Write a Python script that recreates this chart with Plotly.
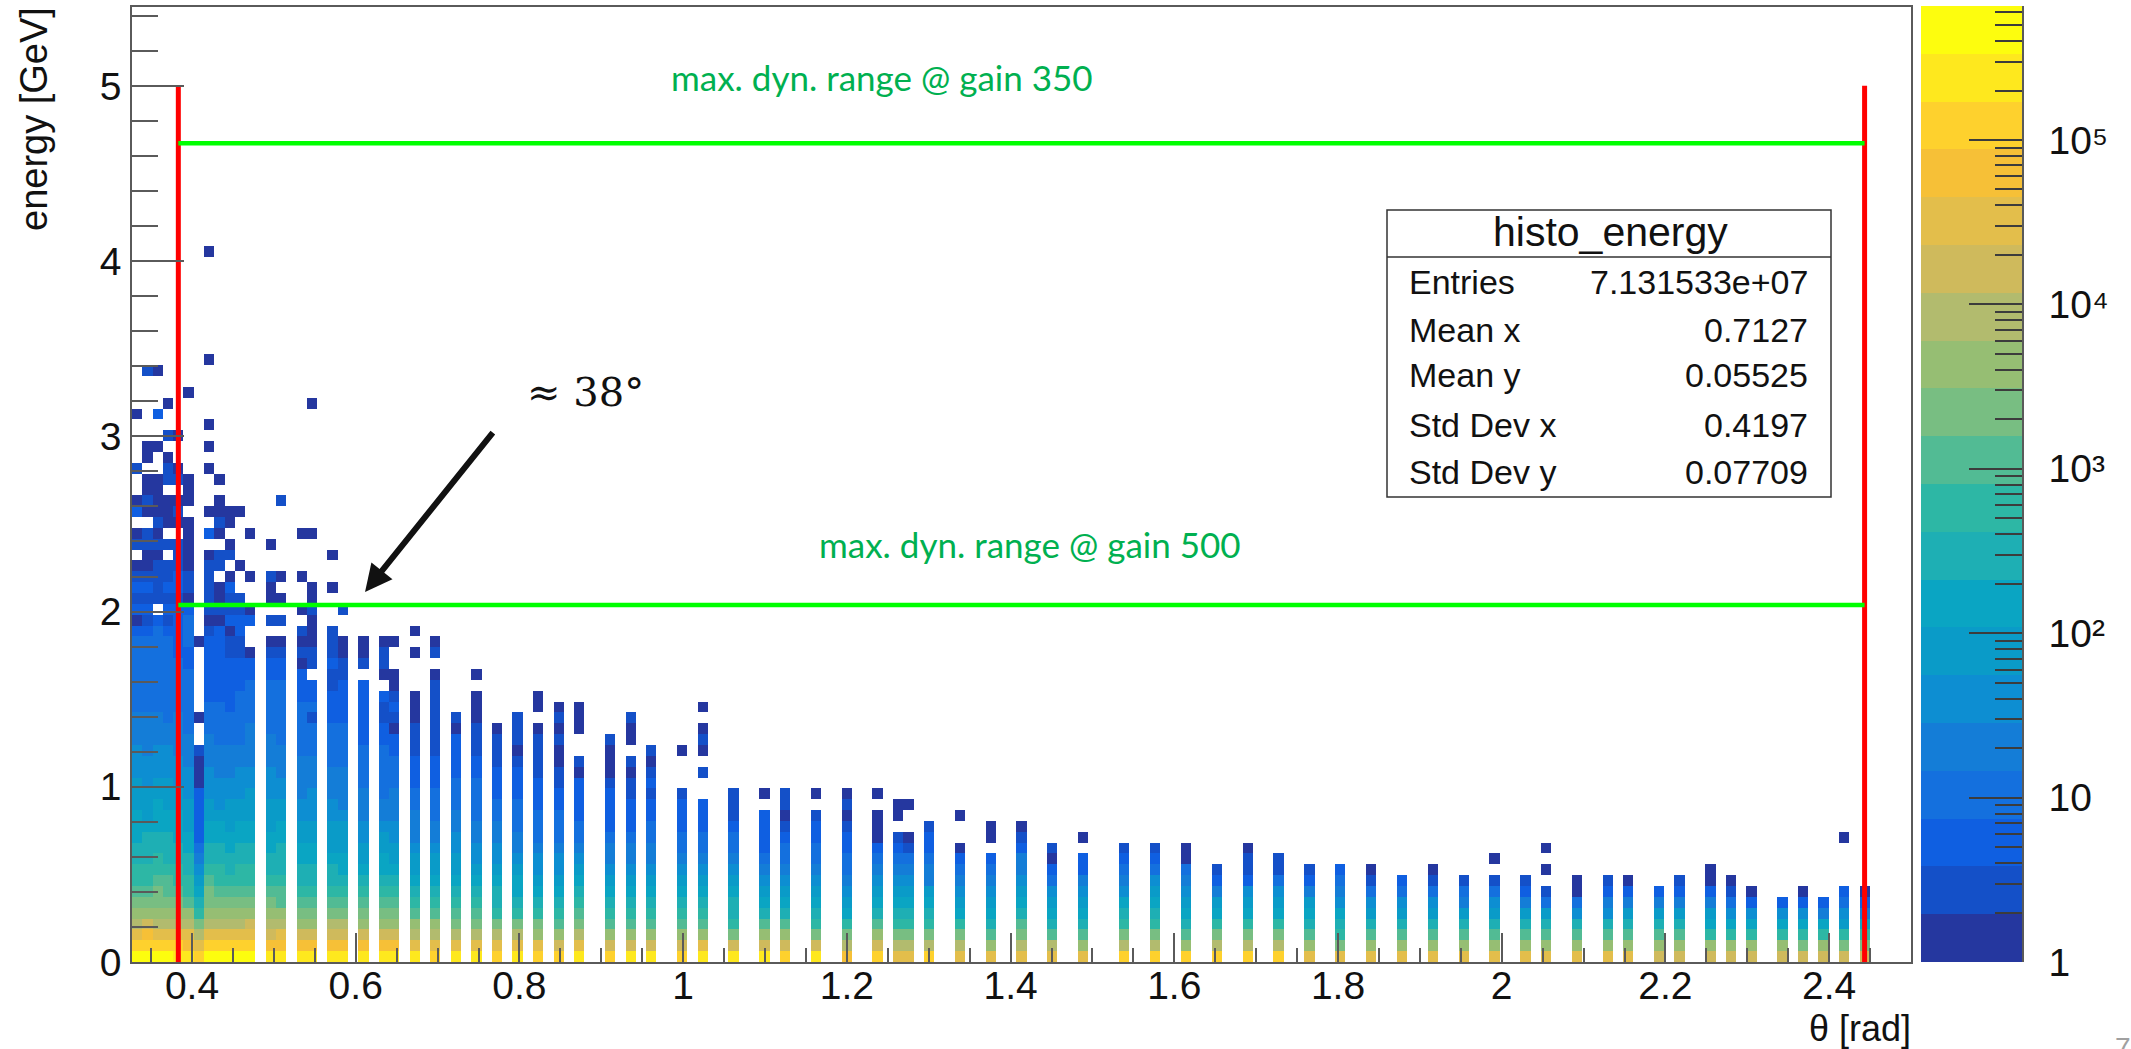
import plotly.graph_objects as go

W, H = 2131, 1049

# ---- picture frame (pixels) ----
X_RANGE = [0.3267, 2.5]
Y_RANGE = [0.0, 5.45]
N_XBINS = 173
N_YBINS = 88
CB_MAX_DECADES = 5.815

# ---- colour bands, bottom of the palette first ----
band_colors = ["#25379f", "#1450c8", "#0f5fe1", "#1470de", "#147dd7", "#0d8ed2", "#0a9bc8", "#0aa5c3",
               "#1eafb4", "#2db7a5", "#52bb94", "#78be82", "#96be73", "#b2bb6e", "#cfba5c", "#e3be4b",
               "#f6c037", "#fed12d", "#fee81e", "#fdfd0e"]

# ---- each column: band index per energy bin from the bottom, -1 = empty ----
c000 = [19,17,15,13,12,11,10,9,9,8,8,7,7,7,6,6,6,5,5,5,4,4,4,3,3,3,3,3,3,3,2,0,2,1,2,1,0,-1,1,0,-1,2,0,-1,-1,1,-1,-1,-1,-1,0]
c001 = [19,17,16,14,12,11,10,9,9,8,8,8,7,6,6,6,5,5,5,4,4,4,4,3,3,3,3,3,3,3,2,1,2,1,2,1,0,0,1,1,-1,0,1,0,0,-1,0,0,-1,-1,-1,-1,-1,-1,1]
c002 = [19,17,15,13,12,11,11,10,9,9,8,8,7,7,7,6,6,5,5,5,4,4,4,3,3,3,3,3,3,3,3,2,-1,1,1,1,1,0,1,0,1,0,0,0,0,-1,-1,0,-1,-1,2,-1,-1,-1,0]
c003 = [19,17,15,13,12,11,10,10,9,8,8,8,7,7,6,6,6,5,5,5,4,4,3,3,3,3,3,3,3,3,2,1,2,1,2,1,1,-1,1,-1,0,0,0,-1,1,1,0,-1,1,-1,-1,0]
c004 = [18,17,15,13,12,11,10,9,9,8,8,7,7,7,6,6,5,5,5,4,4,4,4,3,3,3,3,3,2,2,2,2,2,1,2,2,1,1,1,-1,0,1,0,-1,1,0,-1,-1,0]
c005 = [18,16,15,13,12,10,9,9,8,8,7,7,6,6,6,5,5,5,4,4,4,3,3,3,3,3,3,2,2,3,3,3,2,0,1,1,0,0,0,0,0,-1,0,0,0,-1,-1,-1,-1,-1,-1,-1,0]
c006 = [17,15,13,11,9,8,7,6,5,4,3,2,2,2,2,2,0,0,0,1,-1,-1,0,-1,-1,-1,-1,-1,-1,0]
c007 = [19,17,15,13,12,11,11,10,9,8,8,7,7,6,6,5,5,5,4,4,4,3,3,3,2,2,2,2,2,2,1,0,1,1,1,1,1,0,-1,2,-1,0,-1,-1,-1,0,-1,0,-1,0,-1,-1,-1,-1,-1,0,-1,-1,-1,-1,-1,-1,-1,-1,-1,0]
c008 = [19,17,15,13,12,11,10,9,9,8,8,7,7,6,5,5,5,4,4,4,3,3,3,3,2,2,2,2,2,2,2,0,1,0,0,-1,1,1,-1,0,1,0,0,-1,0]
c009 = [19,17,15,13,12,11,10,9,8,8,7,7,6,6,6,5,5,4,4,4,3,3,3,2,2,2,2,2,1,1,0,2,1,1,2,0,-1,1,0,-1,0,0]
c010 = [19,17,15,13,12,11,10,9,9,8,8,7,7,6,6,5,5,5,4,4,3,3,3,3,3,2,2,2,1,1,2,2,1,1,-1,-1,0,-1,-1,-1,-1,0]
c011 = [19,17,15,14,12,11,10,9,9,8,8,7,7,6,6,6,5,5,4,4,4,4,3,3,3,3,2,2,0,-1,-1,2,0,-1,-1,0,-1,-1,-1,0]
c013 = [18,16,14,13,12,11,10,9,8,8,7,7,6,6,6,5,5,5,4,4,4,3,3,3,3,3,2,2,1,0,-1,1,-1,0,0,1,-1,-1,0]
c014 = [18,16,15,13,12,10,10,9,8,8,8,7,7,6,6,5,5,4,4,4,3,3,3,3,3,3,2,2,1,0,-1,1,-1,0,-1,0,-1,-1,-1,-1,-1,-1,1]
c016 = [18,16,14,12,11,10,9,8,8,7,7,6,6,5,5,4,4,4,4,3,3,3,3,3,2,2,2,0,1,0,1,-1,0,-1,-1,0,-1,-1,-1,0]
c017 = [18,16,14,12,11,10,9,8,8,7,7,6,6,5,5,5,4,4,4,3,3,3,1,3,2,2,-1,1,1,0,0,0,1,0,0,-1,-1,-1,-1,0,-1,-1,-1,-1,-1,-1,-1,-1,-1,-1,-1,0]
c019 = [18,16,14,13,11,10,9,8,8,7,6,6,6,5,5,4,4,4,3,3,3,3,2,2,2,1,1,2,1,1,1,-1,-1,-1,0,-1,-1,0]
c020 = [18,16,14,13,11,10,9,8,7,7,6,6,6,5,4,4,4,4,3,3,3,3,2,2,2,2,1,1,0,0,-1,-1,1]
c022 = [18,16,14,12,11,10,9,8,7,6,6,5,5,4,4,4,3,3,3,3,2,2,2,2,2,2,-1,1,0,0]
c024 = [18,16,14,12,11,10,9,8,7,7,6,6,5,4,4,3,3,3,3,3,2,2,1,1,2,-1,0,1,1,0]
c025 = [18,16,14,12,11,10,9,8,7,6,6,5,5,4,4,4,3,3,3,2,2,0,1,2,1,0,0,-1,-1,0]
c027 = [18,15,13,12,10,9,8,7,6,6,5,4,4,4,3,3,2,2,2,1,1,1,0,0,0,-1,-1,-1,0,-1,0]
c029 = [17,15,13,12,10,9,8,7,6,6,5,4,4,3,3,3,2,2,2,1,1,1,1,1,1,1,0,-1,1,0]
c031 = [18,15,13,11,10,9,8,7,6,6,5,5,4,4,3,3,3,2,2,2,2,0,1]
c033 = [18,15,13,11,10,9,8,7,6,5,5,4,4,3,3,3,3,2,2,1,1,1,0,0,0,-1,0]
c035 = [17,15,13,11,9,8,8,7,6,5,5,4,4,3,3,2,2,2,1,1,1,0]
c037 = [18,15,13,11,9,8,7,7,6,5,4,4,3,3,3,2,2,2,1,0,1,1,1]
c039 = [17,15,12,11,9,8,7,6,5,5,4,3,3,3,2,2,2,1,1,1,1,0,-1,0,0]
c041 = [17,14,12,10,9,8,7,6,5,5,4,3,3,3,2,2,1,1,0,0,1,0,1,0]
c043 = [18,15,13,11,10,9,8,7,6,5,4,3,3,2,2,2,2,0,1,-1,-1,0,0,0]
c046 = [17,14,12,10,9,8,7,6,5,4,4,3,2,2,2,2,1,0,0,0,1]
c048 = [18,14,12,10,9,8,7,6,5,4,4,3,2,2,2,1,1,0,1,-1,0,0,1]
c050 = [18,14,12,10,9,8,7,6,5,4,4,3,3,2,2,1,2,1,0,1]
c053 = [17,14,12,10,9,8,7,6,5,4,3,3,2,2,2,1,-1,-1,-1,0]
c055 = [18,15,12,10,9,8,7,6,5,4,3,3,2,2,2,-1,-1,1,-1,0,1,0,-1,0]
c058 = [18,14,11,9,8,8,7,6,5,4,3,3,2,1,1,1]
c061 = [18,14,12,10,8,7,6,5,4,3,2,2,2,2,-1,0]
c063 = [17,14,12,10,8,7,6,5,4,3,3,2,1,0,1,1]
c066 = [18,14,11,9,8,7,6,5,4,3,3,2,2,1,-1,0]
c069 = [16,13,11,9,7,6,5,4,3,3,2,2,1,0,1,0]
c072 = [17,14,12,10,8,7,6,5,4,3,2,0,0,0,-1,0]
c074 = [15,13,11,9,8,7,6,5,4,3,2,1,-1,0,0]
c075 = [15,13,11,9,8,7,6,5,4,3,1,0,-1,-1,0]
c077 = [17,13,11,9,8,7,6,4,4,3,2,2,1]
c080 = [15,13,11,9,7,6,5,4,3,2,0,-1,-1,0]
c083 = [15,12,10,8,7,6,5,4,3,2,-1,0,0]
c086 = [15,13,11,10,8,7,6,5,4,4,2,1,0]
c089 = [15,13,10,8,7,6,5,3,2,0,1]
c092 = [15,12,10,8,7,6,5,4,2,2,-1,0]
c096 = [17,13,11,9,8,7,5,4,3,2,1]
c099 = [17,13,11,9,8,7,6,5,3,2,1]
c102 = [17,12,10,8,7,6,5,4,3,0,0]
c105 = [17,13,11,9,7,6,4,2,1]
c108 = [17,13,11,9,7,6,5,2,1,1,0]
c111 = [17,13,11,9,7,6,5,3,1,1]
c114 = [15,12,10,8,7,6,4,2,1]
c117 = [15,11,9,8,7,5,4,3,2]
c120 = [15,12,10,8,6,5,3,1,0]
c123 = [15,12,10,8,6,5,3,2]
c126 = [15,12,10,8,6,5,3,1,0]
c129 = [15,12,10,8,6,4,3,1]
c132 = [15,12,10,8,6,5,3,1,-1,0]
c135 = [15,12,10,8,6,4,2,1]
c137 = [15,12,10,8,6,3,1,-1,0,-1,0]
c140 = [15,12,10,8,5,3,0,0]
c143 = [15,12,10,8,5,4,2,1]
c145 = [15,12,10,8,6,4,2,0]
c148 = [14,12,10,8,6,4,2]
c150 = [14,12,10,8,6,4,2,1]
c153 = [14,12,9,7,6,4,2,0,0]
c155 = [14,12,9,7,5,3,1,0]
c157 = [14,12,9,7,5,2,0]
c160 = [14,12,9,7,5,2]
c162 = [14,11,9,7,5,2,0]
c164 = [14,12,9,7,4,2]
c166 = [14,11,9,6,5,3,2,-1,-1,-1,-1,0]
c168 = [14,11,9,7,4,2,0]

column_positions = [0,1,2,3,4,5,6,7,8,9,10,11,13,14,16,17,19,20,22,24,25,27,29,31,33,35,37,39,41,43,46,48,50,53,55,58,61,63,66,69,72,74,75,77,80,83,86,89,92,96,99,102,105,108,111,114,117,120,123,126,129,132,135,137,140,143,145,148,150,153,155,157,160,162,164,166,168]
column_values = [c000,c001,c002,c003,c004,c005,c006,c007,c008,c009,c010,c011,c013,c014,c016,c017,c019,c020,c022,c024,c025,c027,c029,c031,c033,c035,c037,c039,c041,c043,c046,c048,c050,c053,c055,c058,c061,c063,c066,c069,c072,c074,c075,c077,c080,c083,c086,c089,c092,c096,c099,c102,c105,c108,c111,c114,c117,c120,c123,c126,c129,c132,c135,c137,c140,c143,c145,c148,c150,c153,c155,c157,c160,c162,c164,c166,c168]

# ---- axis ticks ----
x_tick_vals = [0.4, 0.6, 0.8, 1.0, 1.2, 1.4, 1.6, 1.8, 2.0, 2.2, 2.4]
x_tick_text = ["0.4", "0.6", "0.8", "1", "1.2", "1.4", "1.6", "1.8", "2", "2.2", "2.4"]
y_tick_vals = [0, 1, 2, 3, 4, 5]
y_tick_text = ["0", "1", "2", "3", "4", "5"]
cb_tick_vals = [1, 10, 100, 1000, 10000, 100000]
cb_tick_text = ["1", "10", "10²", "10³", "10⁴", "10⁵"]

# ---- overlay lines ----
red_x = [0.3833, 2.4433]
red_top = 5.0
gain_350_energy = 4.673
gain_500_energy = 2.038

stats_title = "histo_energy"
stats_labels = ["Entries", "Mean x", "Mean y", "Std Dev x", "Std Dev y"]
stats_values = ["7.131533e+07", "0.7127", "0.05525", "0.4197", "0.07709"]
stats_rows_px = [282, 330, 375, 425, 472]

FONT = "Liberation Sans"
AXC = "#5a5a5a"
TICK_SIZE = 39


def pxx(p):
    return p / W


def pxy(p):
    return 1 - p / H


# ---- matrix from the columns ----
z = [[None] * N_XBINS for _ in range(N_YBINS)]
for i, col in zip(column_positions, column_values):
    for j, b in enumerate(col):
        if b >= 0:
            z[j][i] = b

dx = (X_RANGE[1] - X_RANGE[0]) / N_XBINS
dy = (Y_RANGE[1] - Y_RANGE[0]) / N_YBINS
x_edges = [X_RANGE[0] + k * dx for k in range(N_XBINS + 1)]
y_edges = [Y_RANGE[0] + k * dy for k in range(N_YBINS + 1)]

n_bands = len(band_colors)
stepped = []
for k, c in enumerate(band_colors):
    stepped.append([k / n_bands, c])
    stepped.append([(k + 1) / n_bands, c])

fig = go.Figure()
fig.add_trace(go.Heatmap(x=x_edges, y=y_edges, z=z, zmin=-0.5, zmax=n_bands - 0.5, colorscale=stepped,
                         showscale=False, hoverongaps=False, xaxis="x", yaxis="y"))

# red verticals
for rx in red_x:
    fig.add_trace(go.Scatter(x=[rx, rx], y=[0, red_top], mode="lines", line=dict(color="#ff0000", width=5),
                             showlegend=False, xaxis="x", yaxis="y"))
# green horizontals
for e in [gain_350_energy, gain_500_energy]:
    fig.add_trace(go.Scatter(x=red_x, y=[e, e], mode="lines", line=dict(color="#00ff00", width=4.5),
                             showlegend=False, xaxis="x", yaxis="y"))

# colour scale drawn on its own log axis
cb_edges = [10 ** (k * CB_MAX_DECADES / n_bands) for k in range(n_bands + 1)]
fig.add_trace(go.Heatmap(x=[0, 1], y=cb_edges, z=[[k] for k in range(n_bands)], zmin=-0.5, zmax=n_bands - 0.5,
                         colorscale=stepped, showscale=False, xaxis="x2", yaxis="y2", hoverinfo="skip"))

cb_minor = [m * 10 ** d for d in range(0, 6) for m in range(2, 10) if m * 10 ** d <= 10 ** CB_MAX_DECADES]

annotations = [
    dict(x=pxx(671), y=pxy(77), text="max. dyn. range @ gain 350", font=dict(family="Lato", size=35, color="#00b050"),
         xanchor="left", yanchor="middle"),
    dict(x=pxx(819), y=pxy(544), text="max. dyn. range @ gain 500", font=dict(family="Lato", size=35, color="#00b050"),
         xanchor="left", yanchor="middle"),
    dict(x=pxx(527), y=pxy(392), text="≈ 38°", font=dict(family="DejaVu Serif", size=40, color="#111111"),
         xanchor="left", yanchor="middle"),
    dict(x=pxx(34), y=pxy(7), text="energy [GeV]", textangle=-90, font=dict(family=FONT, size=38, color="#111111"),
         xanchor="center", yanchor="top"),
    dict(x=pxx(1911), y=pxy(1028), text="θ [rad]", font=dict(family=FONT, size=36, color="#111111"),
         xanchor="right", yanchor="middle"),
    dict(x=pxx(2123), y=pxy(1047), text="7", font=dict(family=FONT, size=28, color="#a0a0a0"),
         xanchor="center", yanchor="middle"),
    dict(x=pxx(1610), y=pxy(232), text=stats_title, font=dict(family=FONT, size=41, color="#111111"),
         xanchor="center", yanchor="middle"),
]
for lab, val, yy in zip(stats_labels, stats_values, stats_rows_px):
    annotations.append(dict(x=pxx(1409), y=pxy(yy), text=lab, font=dict(family=FONT, size=34, color="#111111"),
                            xanchor="left", yanchor="middle"))
    annotations.append(dict(x=pxx(1808), y=pxy(yy), text=val, font=dict(family=FONT, size=34, color="#111111"),
                            xanchor="right", yanchor="middle"))
for a in annotations:
    a.update(xref="paper", yref="paper", showarrow=False, borderpad=0, borderwidth=0)

# pointer arrow, in data coordinates
annotations.append(dict(x=0.6114, y=2.112, ax=0.769, ay=3.03, xref="x", yref="y", axref="x", ayref="y", text="",
                        showarrow=True, arrowhead=2, arrowsize=0.9, arrowwidth=6, arrowcolor="#111111", standoff=0))

shapes = [
    dict(type="rect", xref="paper", yref="paper", x0=pxx(1387), x1=pxx(1831), y0=pxy(497), y1=pxy(210),
         line=dict(color="#333333", width=1.5), fillcolor="white", layer="above"),
    dict(type="line", xref="paper", yref="paper", x0=pxx(1387), x1=pxx(1831), y0=pxy(257), y1=pxy(257),
         line=dict(color="#333333", width=1.5), layer="above"),
]

fig.update_layout(
    width=W, height=H, autosize=False,
    margin=dict(l=0, r=0, t=0, b=0, pad=0, autoexpand=False),
    paper_bgcolor="white", plot_bgcolor="white",
    showlegend=False,
    font=dict(family=FONT, size=TICK_SIZE, color="#111111"),
    annotations=annotations, shapes=shapes,
    xaxis=dict(domain=[pxx(132), pxx(1911)], range=X_RANGE, tickmode="array", tickvals=x_tick_vals,
               ticktext=x_tick_text, ticks="inside", ticklen=29, tickwidth=1.5, tickcolor=AXC,
               minor=dict(ticks="inside", ticklen=14, tickwidth=1.5, tickcolor=AXC, dtick=0.05, tick0=0.0, showgrid=False),
               showline=True, linecolor=AXC, linewidth=1.5, mirror=True, showgrid=False, zeroline=False,
               tickfont=dict(family=FONT, size=TICK_SIZE, color="#111111"), anchor="y", ticklabelstandoff=-12),
    yaxis=dict(domain=[pxy(962), pxy(7)], range=Y_RANGE, tickmode="array", tickvals=y_tick_vals,
               ticktext=y_tick_text, ticks="inside", ticklen=52, tickwidth=1.5, tickcolor=AXC,
               minor=dict(ticks="inside", ticklen=26, tickwidth=1.5, tickcolor=AXC, dtick=0.2, tick0=0.0, showgrid=False),
               showline=True, linecolor=AXC, linewidth=1.5, mirror=True, showgrid=False, zeroline=False,
               tickfont=dict(family=FONT, size=TICK_SIZE, color="#111111"), anchor="x", ticklabelstandoff=1),
    xaxis2=dict(domain=[pxx(1921), pxx(2022)], range=[0, 1], showticklabels=False, ticks="", showgrid=False,
                zeroline=False, showline=False, anchor="y2"),
    yaxis2=dict(domain=[pxy(962), pxy(6)], type="log", range=[0, CB_MAX_DECADES], side="right", anchor="x2",
                tickmode="array", tickvals=cb_tick_vals, ticktext=cb_tick_text, ticks="inside", ticklen=53,
                tickwidth=1.5, tickcolor="#3c3c3c",
                minor=dict(ticks="inside", ticklen=27, tickwidth=1.5, tickcolor="#3c3c3c", tickmode="array",
                           tickvals=cb_minor, showgrid=False),
                showline=True, linecolor=AXC, linewidth=1.5, showgrid=False, zeroline=False,
                tickfont=dict(family=FONT, size=TICK_SIZE, color="#111111"), ticklabelstandoff=17),
)

fig.write_html("out.html", config=dict(displayModeBar=False, responsive=False),
               post_script="document.body.style.margin='0';document.body.style.overflow='hidden';")
